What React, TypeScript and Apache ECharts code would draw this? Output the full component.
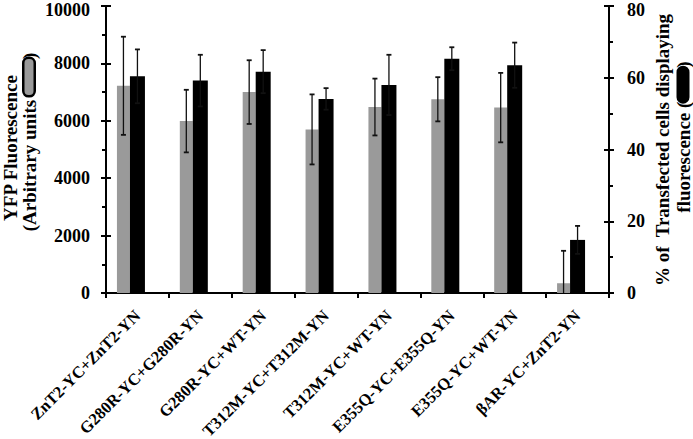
import React, { useEffect, useRef } from "react";
import * as echarts from "echarts";

const categories = [
  "ZnT2-YC+ZnT2-YN",
  "G280R-YC+G280R-YN",
  "G280R-YC+WT-YN",
  "T312M-YC+T312M-YN",
  "T312M-YC+WT-YN",
  "E355Q-YC+E355Q-YN",
  "E355Q-YC+WT-YN",
  "βAR-YC+ZnT2-YN",
];
const yfpValues = [7220, 5990, 7000, 5700, 6480, 6750, 6460, 340];
const yfpErrors = [1710, 1090, 1110, 1220, 990, 770, 1210, 1130];
const pctValues = [60.4, 59.2, 61.7, 54.1, 58.0, 65.3, 63.5, 14.8];
const pctErrors = [7.5, 7.2, 6.0, 3.0, 8.4, 3.2, 6.3, 3.9];
const leftTicks = { min: 0, max: 10000, interval: 2000 };
const rightTicks = { min: 0, max: 80, interval: 20 };

const FONT = "'Liberation Serif', 'Times New Roman', serif";
const GREY = "#9a9a9a";

function makeRender(color: string, offset: number, width: number) {
  return (params: any, api: any) => {
    const idx = api.value(0);
    const v = api.value(1);
    const e = api.value(2);
    const base = api.coord([idx, 0]);
    const top = api.coord([idx, v]);
    const hi = api.coord([idx, v + e]);
    const lowVal = v - e;
    const lo = api.coord([idx, Math.max(lowVal, 0)]);
    const cx = base[0] + offset;
    const children: any[] = [
      {
        type: "rect",
        shape: { x: cx - width / 2, y: top[1], width, height: base[1] - top[1] },
        style: { fill: color },
      },
      {
        type: "line",
        shape: { x1: cx, y1: hi[1], x2: cx, y2: lo[1] },
        style: { stroke: "#111", lineWidth: 1.3 },
      },
      {
        type: "line",
        shape: { x1: cx - 2.5, y1: hi[1], x2: cx + 2.5, y2: hi[1] },
        style: { stroke: "#111", lineWidth: 1.8 },
      },
    ];
    if (lowVal > 0) {
      children.push({
        type: "line",
        shape: { x1: cx - 2.5, y1: lo[1], x2: cx + 2.5, y2: lo[1] },
        style: { stroke: "#111", lineWidth: 1.8 },
      });
    }
    return { type: "group", children };
  };
}

export default function App() {
  const ref = useRef<HTMLDivElement>(null);
  useEffect(() => {
    if (!ref.current) return;
    const chart = echarts.init(ref.current, null, { renderer: "svg" });
    const axisLine = { show: true, lineStyle: { color: "#000", width: 2 } };
    const tickFont = { color: "#000", fontFamily: FONT, fontWeight: "bold" as const, fontSize: 18 };
    const makeLabel = (max: number, margin: number) => ({
      ...tickFont,
      margin,
      formatter: (v: number) => (v === max ? `{t|${v}}` : String(v)),
      rich: { t: { ...tickFont, padding: [7, 0, 0, 0] } },
    });
    chart.setOption({
      animation: false,
      grid: { left: 106, right: 84, top: 6, bottom: 146, outerBoundsMode: "none", containLabel: false },
      xAxis: [
        {
          type: "category",
          data: categories,
          boundaryGap: true,
          axisLine,
          axisTick: { show: true, inside: false, length: 5, lineStyle: { color: "#000", width: 2 } },
          axisLabel: {
            interval: 0,
            rotate: 45,
            margin: 20,
            color: "#000",
            fontFamily: FONT,
            fontWeight: "bold",
            fontSize: 16.5,
            lineHeight: 13,
          },
        },
        {
          type: "category",
          data: categories,
          position: "top",
          axisLine,
          axisTick: { show: false },
          axisLabel: { show: false },
        },
      ],
      yAxis: [
        {
          type: "value",
          position: "left",
          ...leftTicks,
          axisLine,
          axisTick: { show: true, length: 5, lineStyle: { color: "#000", width: 2 } },
          minorTick: { show: true, splitNumber: 2, length: 4, lineStyle: { color: "#000", width: 2 } },
          splitLine: { show: false },
          axisLabel: makeLabel(leftTicks.max, 16),
        },
        {
          type: "value",
          position: "right",
          ...rightTicks,
          axisLine,
          axisTick: { show: true, length: 5, lineStyle: { color: "#000", width: 2 } },
          minorTick: { show: true, splitNumber: 2, length: 4, lineStyle: { color: "#000", width: 2 } },
          splitLine: { show: false },
          axisLabel: makeLabel(rightTicks.max, 18),
        },
        {
          type: "value",
          position: "left",
          ...leftTicks,
          axisLine: { show: false },
          axisTick: { show: true, inside: true, length: 5, lineStyle: { color: "#000", width: 2 } },
          splitLine: { show: false },
          axisLabel: { show: false },
        },
        {
          type: "value",
          position: "right",
          ...rightTicks,
          axisLine: { show: false },
          axisTick: { show: true, inside: true, length: 5, lineStyle: { color: "#000", width: 2 } },
          splitLine: { show: false },
          axisLabel: { show: false },
        },
      ],
      series: [
        {
          type: "custom",
          name: "YFP Fluorescence",
          yAxisIndex: 0,
          renderItem: makeRender(GREY, -14, 13),
          data: yfpValues.map((v, i) => [i, v, yfpErrors[i]]),
          encode: { x: 0, y: [1, 2] },
        },
        {
          type: "custom",
          name: "% of Transfected cells displaying fluorescence",
          yAxisIndex: 1,
          renderItem: makeRender("#000", 0, 15),
          data: pctValues.map((v, i) => [i, v, pctErrors[i]]),
          encode: { x: 0, y: [1, 2] },
        },
      ],
      graphic: [
        {
          type: "text",
          x: 10,
          y: 148,
          rotation: Math.PI / 2,
          style: {
            text: "YFP Fluorescence",
            fontFamily: FONT,
            fontWeight: "bold",
            fontSize: 19,
            fill: "#000",
            align: "center",
            verticalAlign: "middle",
          },
        },
        {
          type: "text",
          x: 29,
          y: 142,
          rotation: Math.PI / 2,
          style: {
            text: "(Arbitrary units {g|})",
            fontFamily: FONT,
            fontWeight: "bold",
            fontSize: 19,
            fill: "#000",
            align: "center",
            verticalAlign: "middle",
            rich: {
              g: {
                width: 36,
                height: 9,
                backgroundColor: GREY,
                borderColor: "#000",
                borderWidth: 2.5,
                borderRadius: 4,
              },
            },
          },
        },
        {
          type: "text",
          x: 662,
          y: 150,
          rotation: Math.PI / 2,
          style: {
            text: "% of  Transfected cells displaying",
            fontFamily: FONT,
            fontWeight: "bold",
            fontSize: 19,
            fill: "#000",
            align: "center",
            verticalAlign: "middle",
          },
        },
        {
          type: "text",
          x: 683,
          y: 137,
          rotation: Math.PI / 2,
          style: {
            text: "fluorescence ({b|})",
            fontFamily: FONT,
            fontWeight: "bold",
            fontSize: 19,
            fill: "#000",
            align: "center",
            verticalAlign: "middle",
            rich: {
              b: {
                width: 34,
                height: 9,
                backgroundColor: "#000",
                borderColor: "#000",
                borderWidth: 2,
                borderRadius: 5,
              },
            },
          },
        },
      ],
    });
    return () => chart.dispose();
  }, []);
  return (
    <div
      ref={ref}
      style={{ position: "fixed", left: 0, top: 0, width: 693, height: 439, background: "#fff" }}
    />
  );
}
